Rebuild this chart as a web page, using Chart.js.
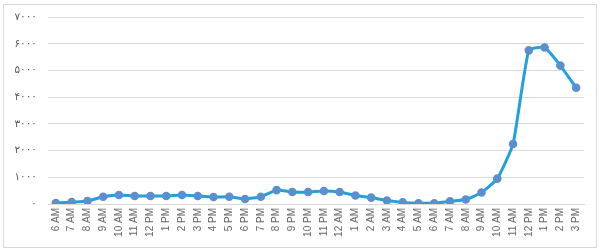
<!DOCTYPE html>
<html>
<head>
<meta charset="utf-8">
<script src="https://cdn.jsdelivr.net/npm/chart.js@4"></script>
<style>
  html, body { margin: 0; padding: 0; background: #fff; }
  #wrap { position: relative; width: 600px; height: 250px; }
</style>
</head>
<body>
<div id="wrap"><canvas id="chart" width="600" height="250"></canvas></div>
<script>
// Hourly series, 6 AM one day through 3 PM the next
const hourLabels = [
    '6 AM', '7 AM', '8 AM', '9 AM', '10 AM', '11 AM', '12 PM', '1 PM', '2 PM', '3 PM',
    '4 PM', '5 PM', '6 PM', '7 PM', '8 PM', '9 PM', '10 PM', '11 PM', '12 AM',
    '1 AM', '2 AM', '3 AM', '4 AM', '5 AM', '6 AM', '7 AM', '8 AM', '9 AM', '10 AM',
    '11 AM', '12 PM', '1 PM', '2 PM', '3 PM'
];
const hourValues = [
    40, 70, 110, 270, 340, 300, 300, 300, 340, 300,
    260, 270, 190, 270, 520, 450, 450, 490, 450,
    320, 240, 130, 60, 30, 30, 100, 170, 430, 950,
    2250, 5760, 5870, 5190, 4360
];
const yTicks = [0, 1000, 2000, 3000, 4000, 5000, 6000, 7000];
const yTickLabels = ['۰', '۱۰۰۰', '۲۰۰۰', '۳۰۰۰', '۴۰۰۰', '۵۰۰۰', '۶۰۰۰', '۷۰۰۰'];

const frameBorder = {
    id: 'frameBorder',
    beforeDraw(chart) {
        const ctx = chart.ctx;
        ctx.save();
        ctx.fillStyle = '#fff';
        ctx.fillRect(0, 0, chart.width, chart.height);
        ctx.strokeStyle = '#d9d9d9';
        ctx.lineWidth = 1;
        ctx.strokeRect(3.5, 4.5, 593, 243);
        ctx.restore();
    }
};

new Chart(document.getElementById('chart'), {
    type: 'line',
    data: {
        labels: hourLabels,
        datasets: [{
            data: hourValues,
            borderColor: '#21a1dc',
            borderWidth: 3,
            backgroundColor: '#5b8fcf',
            pointBackgroundColor: '#5b8fcf',
            pointBorderColor: '#5b8fcf',
            pointRadius: 2.8,
            tension: 0.15,
            fill: false
        }]
    },
    options: {
        responsive: false,
        animation: false,
        layout: { padding: { left: 0, right: 16, top: 17, bottom: 0 } },
        plugins: { legend: { display: false }, tooltip: { enabled: false } },
        scales: {
            x: {
                offset: true,
                grid: { display: false, drawTicks: false },
                border: { color: '#d9d9d9' },
                ticks: {
                    minRotation: 90, maxRotation: 90, autoSkip: false, padding: 4,
                    color: '#666666',
                    font: { family: 'Liberation Sans, Arial', size: 10 }
                },
                afterFit(scale) { scale.height = 46; }
            },
            y: {
                min: 0, max: 7000,
                afterBuildTicks(scale) { scale.ticks = yTicks.map(v => ({ value: v })); },
                grid: { color: '#d9d9d9', drawTicks: false },
                border: { display: false },
                ticks: {
                    padding: 11,
                    color: '#595959',
                    font: { family: 'DejaVu Sans', size: 10.5 },
                    callback: (v) => yTickLabels[yTicks.indexOf(v)]
                },
                afterFit(scale) { scale.width = 48; }
            }
        }
    },
    plugins: [frameBorder]
});
</script>
</body>
</html>
